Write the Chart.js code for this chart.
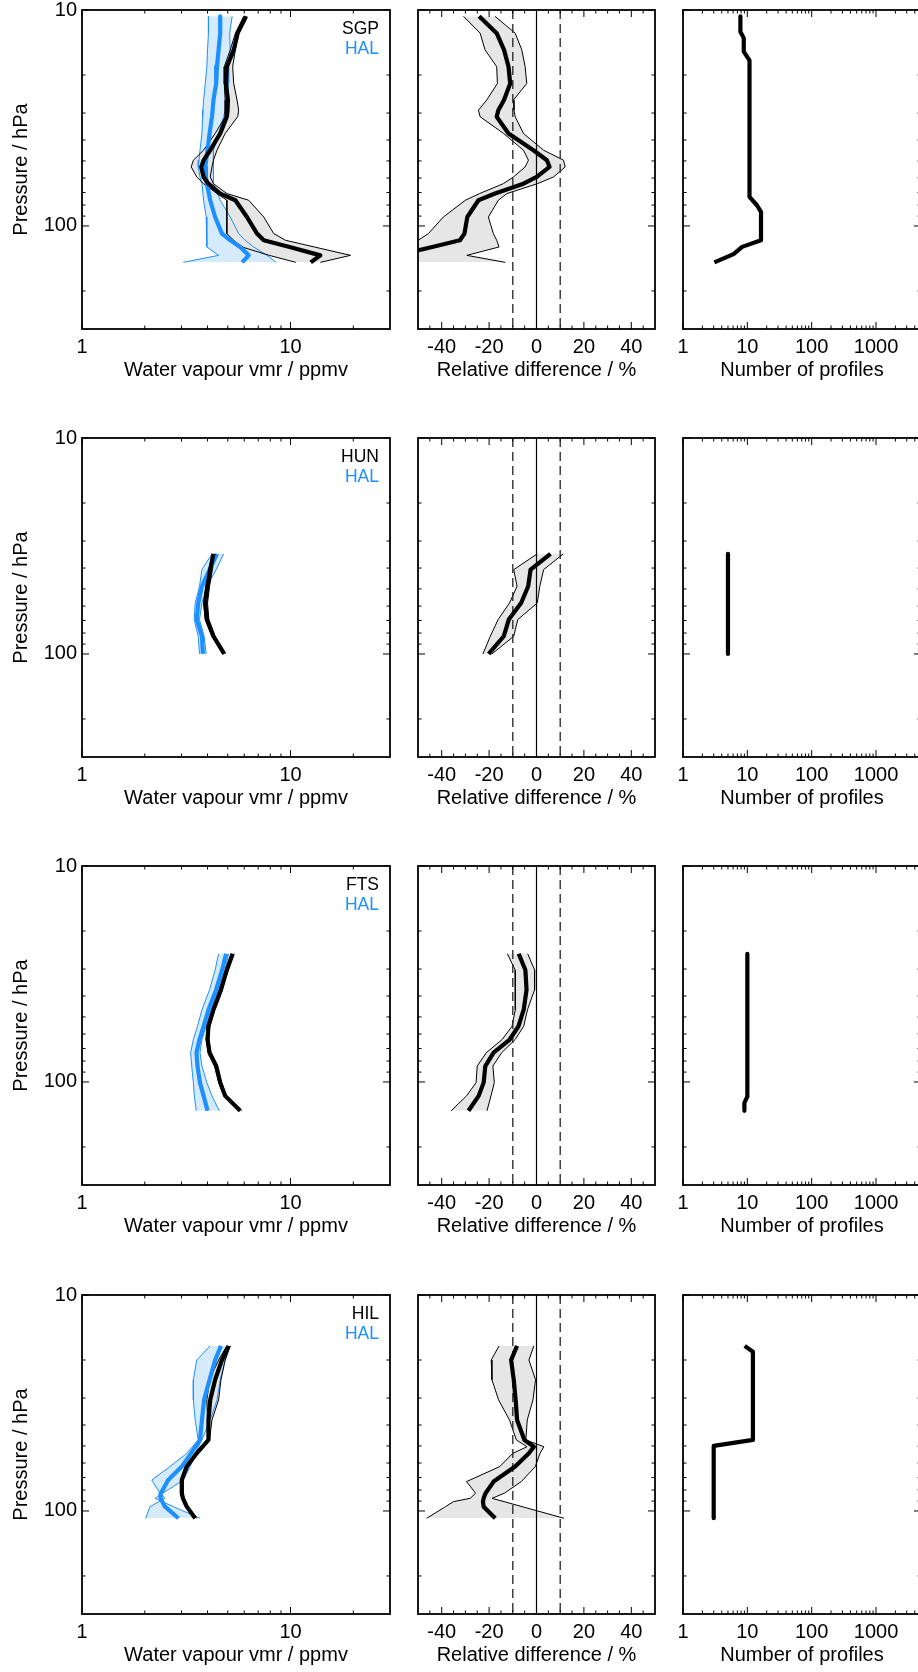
<!DOCTYPE html>
<html>
<head>
<meta charset="utf-8">
<script src="https://cdn.jsdelivr.net/npm/chart.js@4.4.1/dist/chart.umd.min.js"></script>
<style>
  html, body { margin: 0; padding: 0; background: #fff; }
  #page { position: relative; width: 918px; height: 1672px; overflow: hidden; background: #fff; }
  .panel { position: absolute; }
</style>
</head>
<body>
<div id="page"></div>
<script>
// =========================
// AXES
// =========================
const pRange = [10, 300];
const pMajor = [10, 100];
const pMinor = [20, 30, 40, 50, 60, 70, 80, 90, 200];

const vmrRange = [1, 30];
const vmrLabels = [1, 10];
const vmrMinor = [2, 3, 4, 5, 6, 7, 8, 9, 20];

const diffRange = [-50, 50];
const diffLabels = [-40, -20, 0, 20, 40];
const diffMinor = [-45, -35, -30, -25, -15, -10, -5, 5, 10, 15, 25, 30, 35, 45];
const refDiffs = [-10, 0, 10];

const numRange = [1, 5000];
const numLabels = [1, 10, 100, 1000];
const numMinor = [2, 3, 4, 5, 6, 7, 8, 9, 20, 30, 40, 50, 60, 70, 80, 90,
                  200, 300, 400, 500, 600, 700, 800, 900, 2000, 3000, 4000, 5000];

// =========================
// ROW 1 : SGP vs HAL
// =========================
const p1 = [10.7, 12.8, 15.3, 18.3, 21.9, 26.1, 29.1, 31.2, 37.3, 44.6, 49.6, 53.3, 59.3, 63.7, 70.8, 76.0, 90.9, 108.5, 116.5, 125.1, 136.8, 147.4];
const sgpMean = [6.12, 5.58, 5.34, 4.95, 4.90, 5.01, 4.99, 4.95, 4.60, 4.12, 3.83, 3.73, 3.83, 4.04, 4.60, 5.44, 6.18, 6.91, 7.44, 9.9, 13.9, 12.5];
const sgpLo   = [5.96, 5.44, 5.14, 4.81, 4.81, 4.86, 4.86, 4.86, 4.35, 3.83, 3.42, 3.34, 3.55, 3.83, 4.44, 4.95, 4.95, 4.95, 5.34, 5.85, 7.9, 10.6];
const sgpHi   = [6.18, 5.64, 5.44, 5.28, 5.34, 5.54, 5.64, 5.58, 4.86, 4.44, 4.27, 4.20, 4.12, 4.27, 4.95, 6.30, 7.44, 8.31, 9.46, 13.0, 19.4, 13.9];
const halMean1 = [4.60, 4.60, 4.52, 4.44, 4.40, 4.27, 4.23, 4.20, 4.09, 4.00, 3.94, 3.90, 3.93, 3.97, 4.06, 4.12, 4.35, 4.69, 5.14, 5.74, 6.30, 5.86];
const halLo1   = [4.04, 4.04, 4.00, 3.97, 3.90, 3.83, 3.80, 3.79, 3.76, 3.68, 3.64, 3.61, 3.68, 3.76, 3.80, 3.83, 3.94, 3.97, 3.97, 3.97, 4.52, 3.06];
const halHi1   = [5.25, 5.11, 5.14, 5.05, 5.05, 4.95, 4.86, 4.78, 4.52, 4.27, 4.27, 4.27, 4.27, 4.27, 4.47, 4.60, 5.14, 5.64, 6.06, 6.65, 7.72, 8.55];
const diffMean1 = [-24.2, -16.8, -13.7, -11.8, -11.1, -13.7, -16.1, -16.8, -11.8, -1.3, 4.4, 5.5, 0.1, -5.5, -17.5, -24.5, -29.2, -30.4, -32.3, -44, -58.6, -67];
const diffLo1   = [-30.8, -23.8, -21.7, -16.8, -16.5, -21.0, -24.5, -23.8, -13.9, -5.5, -3.4, -4.8, -9.7, -14.0, -24.0, -30.0, -39.3, -45.6, -50, -56, -65, -70];
const diffHi1   = [-17.5, -9.0, -6.2, -4.8, -4.1, -9.7, -9.5, -9.0, -5.5, 3.0, 11.4, 12.1, 7.2, 0.4, -12.5, -16.1, -20.3, -18.2, -16.8, -15.8, -29.4, -13.2];
const numP1 = [10.7, 12.6, 13.5, 15.6, 17.1, 73.4, 80.2, 86.1, 116.4, 125.0, 135.0, 147.4];
const numN1 = [7.8, 7.8, 8.8, 8.8, 10.8, 10.8, 14.1, 16.3, 16.3, 8.3, 6.1, 3.07];

// =========================
// ROW 2 : HUN vs HAL
// =========================
const p2 = [34.4, 40.7, 48.6, 58.1, 69.3, 82.8, 100];
const hunMean = [4.27, 4.12, 4.00, 3.90, 3.97, 4.27, 4.81];
const hunLo   = [4.22, 4.06, 3.92, 3.83, 3.90, 4.20, 4.73];
const hunHi   = [4.35, 4.22, 4.09, 4.00, 4.06, 4.35, 4.86];
const halMean2 = [4.44, 4.09, 3.76, 3.61, 3.55, 3.76, 3.80];
const halLo2   = [4.20, 3.76, 3.66, 3.49, 3.45, 3.61, 3.66];
const halHi2   = [4.78, 4.40, 3.97, 3.76, 3.66, 3.85, 3.94];
const diffMean2 = [5.9, -2.5, -3.5, -6.5, -11.7, -13.8, -20.2];
const diffLo2   = [0.3, -9.6, -8.2, -11.4, -16.2, -19.5, -22.6];
const diffHi2   = [11.3, 3.0, 1.4, 0.3, -7.9, -9.6, -18.8];
const numP2 = [34.4, 100];
const numN2 = [5, 5];

// =========================
// ROW 3 : FTS vs HAL
// =========================
const p3 = [25.5, 30.3, 37.4, 46.3, 55.2, 63.6, 73.2, 84.4, 100.7, 116.0, 136.0];
const ftsMean = [5.28, 4.95, 4.64, 4.27, 4.04, 4.00, 4.09, 4.40, 4.60, 4.86, 5.74];
const ftsLo   = [5.20, 4.88, 4.57, 4.21, 3.98, 3.94, 4.03, 4.33, 4.53, 4.79, 5.65];
const ftsHi   = [5.36, 5.02, 4.71, 4.33, 4.10, 4.06, 4.15, 4.47, 4.67, 4.93, 5.83];
const halMean3 = [4.91, 4.70, 4.40, 4.04, 3.83, 3.66, 3.54, 3.58, 3.68, 3.83, 4.00];
const halLo3   = [4.52, 4.35, 4.09, 3.76, 3.58, 3.42, 3.32, 3.36, 3.42, 3.46, 3.53];
const halHi3   = [5.05, 4.85, 4.52, 4.15, 3.94, 3.76, 3.68, 3.76, 3.97, 4.20, 4.55];
const diffMean3 = [-7.5, -4.7, -4.2, -5.4, -7.6, -11.3, -18.1, -21.6, -22.3, -24.4, -28.7];
const diffLo3   = [-12.3, -9.0, -8.9, -9.0, -10.3, -14.5, -21.2, -25.0, -25.5, -29.5, -36.0];
const diffHi3   = [-3.7, -0.8, -0.8, -3.8, -5.4, -9.0, -14.7, -18.4, -17.8, -19.2, -20.9];
const numP3 = [25.5, 117, 125, 136];
const numN3 = [10, 10, 9, 9];

// =========================
// ROW 4 : HIL vs HAL
// =========================
const p4 = [17.2, 20.0, 24.7, 30.6, 37.9, 46.9, 54.1, 62.3, 71.9, 82.8, 87.4, 95.5, 108.1];
const hilMean = [5.05, 4.69, 4.35, 4.12, 4.04, 4.04, 3.55, 3.18, 3.01, 3.01, 3.05, 3.18, 3.49];
const hilLo   = [4.95, 4.52, 4.09, 3.97, 4.00, 4.00, 3.49, 3.13, 2.97, 2.97, 3.01, 3.13, 3.44];
const hilHi   = [5.14, 4.86, 4.64, 4.52, 4.20, 4.09, 3.60, 3.23, 3.05, 3.05, 3.09, 3.23, 3.54];
const halMean4 = [4.64, 4.35, 4.09, 3.85, 3.76, 3.68, 3.33, 3.01, 2.59, 2.39, 2.38, 2.50, 2.90];
const halLo4   = [4.12, 3.55, 3.42, 3.42, 3.49, 3.61, 3.18, 2.64, 2.16, 2.37, 2.50, 2.12, 2.02];
const halHi4   = [5.14, 4.86, 4.60, 4.44, 4.12, 3.76, 3.49, 3.30, 3.06, 2.44, 2.24, 2.74, 3.68];
const pD4 = [17.2, 20.0, 24.7, 30.6, 37.9, 46.9, 50.4, 54.1, 62.3, 73.1, 82.8, 87.4, 90.5, 95.5, 108.1];
const diffMean4 = [-8.2, -10.7, -9.6, -8.8, -8.2, -5.1, -1.1, -3.2, -9.0, -18.1, -21.5, -22.3, -22.6, -22.3, -17.4];
const diffLo4   = [-15.8, -19.1, -18.8, -16.0, -11.4, -8.5, -4.0, -10.0, -15.5, -29.5, -25.7, -28.0, -35.0, -38.4, -46.3];
const diffHi4   = [-1.1, -3.2, -0.4, -1.5, -3.9, -4.5, 3.1, 1.5, -0.5, -6.4, -13.6, -18.8, -13.7, -6.1, 11.6];
const numP4 = [17.2, 18.3, 46.9, 50.0, 108.1];
const numN4 = [9.09, 12.2, 12.2, 3.0, 3.0];

// kumpulan per baris
const rows = [
  { name: 'SGP', p: p1, st: [sgpMean, sgpLo, sgpHi], hal: [halMean1, halLo1, halHi1],
    pd: p1, diff: [diffMean1, diffLo1, diffHi1], pn: numP1, num: numN1 },
  { name: 'HUN', p: p2, st: [hunMean, hunLo, hunHi], hal: [halMean2, halLo2, halHi2],
    pd: p2, diff: [diffMean2, diffLo2, diffHi2], pn: numP2, num: numN2 },
  { name: 'FTS', p: p3, st: [ftsMean, ftsLo, ftsHi], hal: [halMean3, halLo3, halHi3],
    pd: p3, diff: [diffMean3, diffLo3, diffHi3], pn: numP3, num: numN3 },
  { name: 'HIL', p: p4, st: [hilMean, hilLo, hilHi], hal: [halMean4, halLo4, halHi4],
    pd: pD4, diff: [diffMean4, diffLo4, diffHi4], pn: numP4, num: numN4 }
];

// =========================
// STYLE
// =========================
const BLUE = '#1e8fff';
const LIGHTBLUE = '#d5ebfc';
const GREY = '#e6e6e6';
const FONT = '"Liberation Sans", Arial, Helvetica, sans-serif';

Chart.defaults.font.family = FONT;
Chart.defaults.font.size = 20;
Chart.defaults.color = '#000';

// frame + inward ticks + station labels
function framePlugin(cfg) {
  return {
    id: 'frame',
    afterDatasetsDraw(chart) {
      const { ctx, chartArea: a } = chart;
      const sx = chart.scales.x, sy = chart.scales.y;
      ctx.save();
      ctx.strokeStyle = '#000';
      ctx.lineWidth = 1;
      ctx.beginPath();
      const tx = (vals, len) => vals.forEach(v => {
        const px = sx.getPixelForValue(v);
        ctx.moveTo(px, a.bottom); ctx.lineTo(px, a.bottom - len);
        ctx.moveTo(px, a.top); ctx.lineTo(px, a.top + len);
      });
      const ty = (vals, len) => vals.forEach(v => {
        const py = sy.getPixelForValue(v);
        ctx.moveTo(a.left, py); ctx.lineTo(a.left + len, py);
        ctx.moveTo(a.right, py); ctx.lineTo(a.right - len, py);
      });
      tx(cfg.xMajor, 7);
      tx(cfg.xMinor, 3.5);
      ty(pMajor, 7);
      ty(pMinor, 3.5);
      ctx.stroke();
      ctx.lineWidth = 1.8;
      ctx.strokeRect(a.left, a.top, a.right - a.left, a.bottom - a.top);

      if (cfg.legend) {
        ctx.font = '17.5px ' + FONT;
        ctx.textAlign = 'right';
        ctx.textBaseline = 'middle';
        cfg.legend.forEach((item, i) => {
          ctx.fillStyle = item.color;
          ctx.fillText(item.text, a.right - 11, a.top + 19 + 20 * i);
        });
      }
      ctx.restore();
    }
  };
}

function yAxis(width, showLabels) {
  return {
    type: 'logarithmic', position: 'left', reverse: true,
    min: pRange[0], max: pRange[1],
    grid: { display: false, drawTicks: false }, border: { display: false },
    ticks: { display: showLabels, padding: 5, autoSkip: false, callback: v => String(v) },
    title: { display: showLabels, text: 'Pressure / hPa', padding: { top: 9.5, bottom: 0 } },
    afterBuildTicks: s => { s.ticks = pMajor.map(v => ({ value: v })); },
    afterFit: s => { s.width = width; s.paddingTop = 0; s.paddingBottom = 0; }
  };
}

function xAxis(type, range, labels, title) {
  return {
    type, position: 'bottom', min: range[0], max: range[1],
    grid: { display: false, drawTicks: false }, border: { display: false },
    ticks: { padding: 6, autoSkip: false, maxRotation: 0, minRotation: 0, callback: v => String(v) },
    title: { display: true, text: title, padding: { top: 0, bottom: 18 } },
    afterBuildTicks: s => { s.ticks = labels.map(v => ({ value: v })); },
    afterFit: s => { s.height = 71; s.paddingLeft = 0; s.paddingRight = 0; }
  };
}

function line(xs, ps, color, width, extra) {
  return Object.assign({
    data: xs.map((v, i) => ({ x: v, y: ps[i] })),
    borderColor: color,
    borderWidth: width,
    pointRadius: 0,
    fill: false,
    tension: 0,
    clip: 0,
    borderJoinStyle: 'round'
  }, extra || {});
}

function bandFill(target, color) {
  return { fill: { target: target, above: color, below: color }, backgroundColor: color };
}

// =========================
// BUAT PANEL
// =========================
const page = document.getElementById('page');
const cols = [
  { left: 0, width: 400, yw: 82, pr: 10 },
  { left: 400, width: 270, yw: 18, pr: 15 },
  { left: 670, width: 260, yw: 13, pr: 9 }
];
const rowTops = [10, 438, 866, 1295];
const H = 400;

function makePanel(rowIdx, colIdx, datasets, xScale, frameCfg) {
  const c = cols[colIdx];
  const canvas = document.createElement('canvas');
  canvas.className = 'panel';
  canvas.width = c.width;
  canvas.height = H;
  canvas.style.left = c.left + 'px';
  canvas.style.top = (rowTops[rowIdx] - 10) + 'px';
  canvas.style.width = c.width + 'px';
  canvas.style.height = H + 'px';
  page.appendChild(canvas);

  new Chart(canvas.getContext('2d'), {
    type: 'line',
    data: { datasets },
    options: {
      indexAxis: 'y',
      responsive: false,
      animation: false,
      devicePixelRatio: 1,
      layout: { padding: { top: 10, right: c.pr, bottom: 0, left: 0 } },
      scales: { x: xScale, y: yAxis(c.yw, colIdx === 0) },
      plugins: {
        legend: { display: false },
        tooltip: { enabled: false },
        filler: { drawTime: 'beforeDatasetsDraw' }
      }
    },
    plugins: [framePlugin(frameCfg)]
  });
}

rows.forEach((r, i) => {
  // kolom 1 : profil uap air
  makePanel(i, 0, [
    line(r.st[0], r.p, '#000', 4.2),
    line(r.hal[0], r.p, BLUE, 4.2),
    line(r.st[2], r.p, '#000', 1, bandFill(3, GREY)),
    line(r.st[1], r.p, '#000', 1),
    line(r.hal[2], r.p, BLUE, 1, bandFill(5, LIGHTBLUE)),
    line(r.hal[1], r.p, BLUE, 1)
  ], xAxis('logarithmic', vmrRange, vmrLabels, 'Water vapour vmr / ppmv'), {
    xMajor: vmrLabels, xMinor: vmrMinor,
    legend: [{ text: r.name, color: '#000' }, { text: 'HAL', color: BLUE }]
  });

  // kolom 2 : beda relatif
  const refs = refDiffs.map(v => line([v, v], pRange, v === 0 ? '#000' : '#222', v === 0 ? 1.2 : 1.3,
    v === 0 ? {} : { borderDash: [9, 5] }));
  makePanel(i, 1, [
    line(r.diff[0], r.pd, '#000', 4.2),
    ...refs,
    line(r.diff[2], r.pd, '#000', 1, bandFill(5, GREY)),
    line(r.diff[1], r.pd, '#000', 1)
  ], xAxis('linear', diffRange, diffLabels, 'Relative difference / %'), {
    xMajor: diffLabels, xMinor: diffMinor
  });

  // kolom 3 : jumlah profil
  makePanel(i, 2, [
    line(r.num, r.pn, '#000', 4.2)
  ], xAxis('logarithmic', numRange, numLabels, 'Number of profiles'), {
    xMajor: numLabels, xMinor: numMinor
  });
});
</script>
</body>
</html>
